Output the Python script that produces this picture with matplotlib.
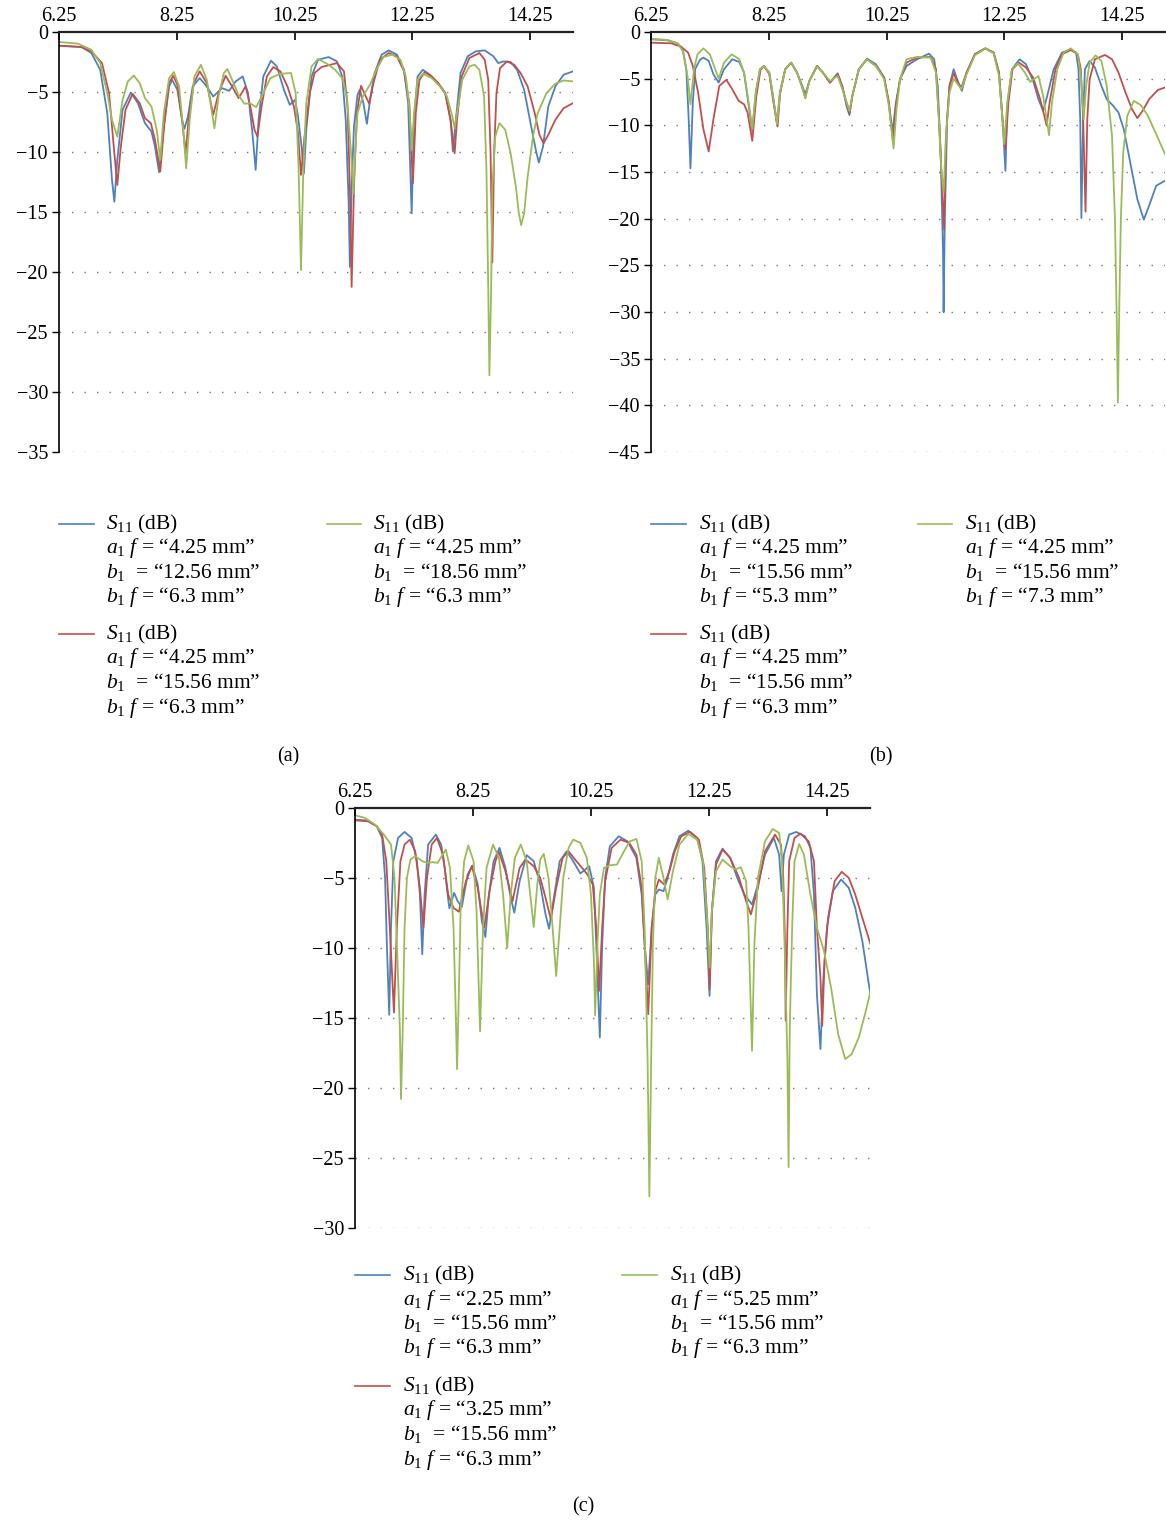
import matplotlib
matplotlib.use("Agg")
import matplotlib.pyplot as plt
from matplotlib.lines import Line2D

plt.rcParams['font.family'] = ['Liberation Serif', 'DejaVu Serif']
plt.rcParams['mathtext.fontset'] = 'custom'
plt.rcParams['mathtext.rm'] = 'Liberation Serif'
plt.rcParams['mathtext.it'] = 'Liberation Serif:italic'

# ---------------- data ----------------
X_TICKS = [6.25, 8.25, 10.25, 12.25, 14.25]
X_TICK_LABELS = ["6.25", "8.25", "10.25", "12.25", "14.25"]
Y_MIN = {"a": -35, "b": -45, "c": -30}
PANEL_NAMES = ["(a)", "(b)", "(c)"]
COLORS = {"blue": "#4F81BD", "red": "#C0504D", "green": "#9BBB59"}

# (frequency GHz, S11 dB)
A_BLUE = [(6.25,-1.14),(6.63,-1.25),(6.80,-1.75),(6.95,-3.15),(7.07,-6.76),(7.15,-12.33),(7.19,-14.14),(7.24,-10.66),(7.33,-6.48),(7.47,-5.04),(7.59,-5.93),(7.71,-7.60),(7.82,-8.29),(7.88,-9.55),(7.95,-11.69),(8.03,-7.88),(8.12,-4.54),(8.17,-3.98),(8.26,-4.81),(8.34,-7.32),(8.38,-8.07),(8.44,-7.04),(8.52,-4.54),(8.64,-3.84),(8.76,-4.54),(8.87,-5.37),(9.02,-4.68),(9.14,-4.90),(9.25,-4.12),(9.37,-3.70),(9.46,-5.09),(9.53,-8.15),(9.59,-11.49),(9.64,-7.32),(9.72,-3.70),(9.85,-2.39),(9.95,-2.87),(10.07,-4.81),(10.17,-6.07),(10.26,-5.65),(10.31,-7.04),(10.37,-9.55),(10.41,-11.77),(10.45,-8.15),(10.54,-3.70),(10.65,-2.31),(10.83,-2.09),(10.97,-2.45),(11.06,-3.70),(11.12,-7.32),(11.17,-14.28),(11.19,-19.57),(11.22,-12.89),(11.26,-7.88),(11.32,-5.23),(11.36,-4.81),(11.42,-5.93),(11.48,-7.65),(11.54,-5.37),(11.61,-3.42),(11.73,-1.89),(11.85,-1.53),(11.99,-1.89),(12.11,-3.15),(12.18,-5.93),(12.24,-15.11),(12.28,-7.32),(12.34,-3.70),(12.43,-3.15),(12.55,-3.56),(12.69,-4.26),(12.81,-5.09),(12.90,-7.32),(12.94,-9.96),(12.99,-7.32),(13.07,-3.42),(13.19,-2.03),(13.33,-1.61),(13.48,-1.53),(13.63,-2.03),(13.71,-2.59),(13.80,-2.45),(13.92,-2.50),(14.03,-3.15),(14.15,-4.81),(14.27,-7.88),(14.36,-10.10),(14.40,-10.88),(14.47,-9.55),(14.56,-6.21),(14.68,-4.54),(14.82,-3.56),(14.98,-3.28)]
A_RED = [(6.25,-1.14),(6.63,-1.25),(6.80,-1.61),(6.98,-2.59),(7.10,-5.09),(7.18,-9.55),(7.24,-12.75),(7.30,-9.55),(7.38,-6.48),(7.50,-5.15),(7.62,-5.93),(7.71,-7.18),(7.81,-7.60),(7.88,-8.99),(7.97,-11.63),(8.04,-7.60),(8.12,-4.26),(8.19,-3.65),(8.26,-4.40),(8.34,-7.32),(8.40,-10.10),(8.45,-7.32),(8.54,-4.26),(8.64,-3.28),(8.76,-4.26),(8.87,-6.90),(8.96,-5.09),(9.08,-3.65),(9.19,-4.54),(9.30,-5.51),(9.42,-4.54),(9.50,-6.21),(9.57,-8.15),(9.62,-8.71),(9.69,-6.21),(9.78,-3.70),(9.89,-2.92),(10.01,-3.28),(10.13,-4.54),(10.24,-6.21),(10.31,-8.43),(10.36,-11.91),(10.42,-8.71),(10.51,-5.09),(10.59,-3.42),(10.71,-2.92),(10.97,-2.59),(11.09,-3.28),(11.15,-6.21),(11.19,-12.89),(11.22,-21.24),(11.26,-12.89),(11.31,-6.76),(11.38,-4.48),(11.46,-5.37),(11.52,-5.98),(11.59,-4.26),(11.70,-2.31),(11.85,-1.75),(11.99,-2.03),(12.11,-3.28),(12.20,-5.93),(12.26,-12.61),(12.31,-6.76),(12.37,-4.04),(12.46,-3.34),(12.58,-3.70),(12.69,-4.26),(12.81,-5.09),(12.90,-7.32),(12.97,-10.10),(13.01,-7.32),(13.09,-3.70),(13.22,-2.17),(13.39,-1.75),(13.48,-2.31),(13.54,-3.98),(13.58,-10.10),(13.61,-19.20),(13.64,-10.10),(13.68,-5.09),(13.74,-3.01),(13.86,-2.45),(13.98,-2.73),(14.09,-3.42),(14.21,-4.54),(14.33,-6.76),(14.41,-8.57),(14.48,-9.27),(14.56,-8.57),(14.68,-7.32),(14.82,-6.35),(14.98,-5.93)]
A_GREEN = [(6.25,-0.83),(6.57,-0.97),(6.80,-1.48),(6.95,-2.59),(7.07,-5.09),(7.15,-7.32),(7.24,-8.71),(7.33,-5.65),(7.42,-4.12),(7.52,-3.62),(7.62,-4.26),(7.71,-5.51),(7.82,-6.21),(7.91,-8.15),(7.97,-10.66),(8.03,-6.76),(8.12,-3.84),(8.20,-3.34),(8.29,-4.54),(8.36,-8.15),(8.41,-11.36),(8.47,-7.32),(8.55,-3.70),(8.66,-2.73),(8.76,-3.98),(8.84,-6.48),(8.89,-8.02),(8.96,-5.37),(9.05,-3.42),(9.11,-3.09),(9.19,-3.98),(9.31,-5.37),(9.40,-5.98),(9.49,-5.93),(9.60,-6.26),(9.72,-5.09),(9.84,-3.84),(10.01,-3.48),(10.19,-3.42),(10.27,-5.09),(10.32,-11.49),(10.36,-19.84),(10.40,-11.49),(10.45,-5.93),(10.54,-2.87),(10.65,-2.25),(10.83,-2.73),(10.94,-3.15),(11.06,-3.84),(11.14,-5.37),(11.21,-10.10),(11.25,-13.44),(11.28,-10.10),(11.32,-6.76),(11.41,-5.37),(11.53,-4.40),(11.64,-3.15),(11.76,-2.09),(11.91,-1.89),(12.05,-2.31),(12.14,-3.70),(12.20,-6.21),(12.24,-9.82),(12.28,-6.76),(12.34,-3.98),(12.43,-3.48),(12.58,-3.84),(12.72,-4.54),(12.84,-5.37),(12.93,-7.04),(12.97,-8.02),(13.01,-6.76),(13.10,-3.98),(13.22,-2.87),(13.31,-2.73),(13.39,-3.15),(13.47,-5.37),(13.51,-11.49),(13.54,-21.24),(13.56,-28.61),(13.59,-21.24),(13.61,-12.89),(13.66,-8.71),(13.73,-7.60),(13.83,-8.15),(13.92,-10.10),(14.01,-12.89),(14.06,-15.11),(14.10,-16.09),(14.15,-15.11),(14.21,-12.05),(14.30,-8.71),(14.38,-6.76),(14.53,-5.09),(14.68,-4.31),(14.82,-4.04),(14.98,-4.12)]

B_BLUE = [(6.25,-0.78),(6.53,-0.89),(6.70,-1.21),(6.79,-1.85),(6.85,-3.99),(6.89,-9.34),(6.92,-14.62),(6.96,-7.56),(7.00,-3.99),(7.08,-2.99),(7.14,-2.75),(7.23,-3.10),(7.31,-4.53),(7.40,-5.42),(7.49,-3.99),(7.63,-2.92),(7.75,-3.21),(7.83,-4.35),(7.91,-7.91),(7.97,-10.59),(8.03,-6.49),(8.10,-3.99),(8.17,-3.64),(8.26,-4.35),(8.33,-7.20),(8.39,-9.88),(8.44,-6.49),(8.53,-3.99),(8.63,-3.28),(8.73,-4.35),(8.82,-5.78),(8.87,-6.67),(8.94,-5.24),(9.07,-3.64),(9.17,-4.35),(9.29,-5.42),(9.42,-4.42),(9.50,-5.78),(9.57,-7.91),(9.62,-8.91),(9.67,-6.84),(9.78,-3.99),(9.92,-2.85),(10.07,-3.46),(10.21,-4.88),(10.29,-7.56),(10.35,-10.77),(10.41,-7.56),(10.48,-5.06),(10.59,-3.64),(10.77,-2.92),(10.97,-2.32),(11.06,-2.92),(11.12,-5.78),(11.17,-12.91),(11.21,-23.60),(11.22,-30.02),(11.24,-20.04),(11.28,-9.34),(11.32,-5.78),(11.39,-3.99),(11.47,-5.42),(11.53,-6.31),(11.61,-4.35),(11.75,-2.39),(11.93,-1.75),(12.07,-2.21),(12.16,-4.35),(12.22,-9.34),(12.27,-14.87),(12.30,-7.91),(12.38,-3.99),(12.51,-2.92),(12.62,-3.46),(12.74,-5.24),(12.83,-7.20),(12.91,-8.45),(12.98,-6.84),(13.09,-3.99),(13.23,-2.21),(13.38,-1.85),(13.47,-2.21),(13.51,-3.99),(13.54,-9.34),(13.56,-19.93),(13.59,-9.34),(13.62,-3.99),(13.70,-3.10),(13.79,-3.81),(13.90,-5.78),(13.99,-7.20),(14.10,-7.91),(14.19,-8.63),(14.28,-10.41),(14.40,-14.33),(14.51,-17.90),(14.62,-20.11),(14.71,-18.61),(14.83,-16.47),(14.98,-15.94)]
B_RED = [(6.25,-1.14),(6.59,-1.21),(6.76,-1.57),(6.88,-2.21),(6.96,-3.64),(7.05,-6.49),(7.14,-10.41),(7.23,-12.80),(7.31,-9.34),(7.41,-5.78),(7.53,-5.13),(7.63,-6.13),(7.74,-7.38),(7.83,-7.74),(7.89,-8.63),(7.97,-11.66),(8.04,-6.84),(8.11,-4.06),(8.17,-3.64),(8.26,-4.53),(8.33,-7.56),(8.40,-10.12),(8.44,-6.67),(8.53,-3.99),(8.63,-3.28),(8.73,-4.35),(8.82,-5.95),(8.87,-7.02),(8.94,-5.24),(9.07,-3.64),(9.17,-4.35),(9.29,-5.42),(9.42,-4.53),(9.50,-5.95),(9.62,-8.70),(9.67,-6.84),(9.78,-3.99),(9.92,-2.92),(10.07,-3.64),(10.21,-4.88),(10.29,-7.56),(10.36,-11.84),(10.41,-7.91),(10.48,-5.06),(10.59,-3.28),(10.77,-2.75),(11.00,-2.67),(11.09,-3.99),(11.14,-9.34),(11.18,-14.69),(11.23,-21.18),(11.26,-11.12),(11.32,-5.78),(11.39,-4.42),(11.46,-5.42),(11.52,-5.95),(11.61,-4.35),(11.75,-2.39),(11.93,-1.75),(12.07,-2.21),(12.16,-4.35),(12.22,-9.34),(12.27,-12.55),(12.32,-7.56),(12.39,-3.99),(12.50,-3.28),(12.62,-3.81),(12.74,-4.88),(12.86,-7.20),(12.93,-8.98),(12.97,-10.05),(13.02,-7.56),(13.12,-3.99),(13.23,-2.39),(13.38,-1.93),(13.50,-2.39),(13.55,-3.99),(13.59,-9.34),(13.63,-19.25),(13.66,-9.34),(13.70,-5.06),(13.79,-2.92),(13.96,-2.46),(14.08,-2.92),(14.19,-4.35),(14.31,-6.49),(14.42,-8.27),(14.51,-9.23),(14.60,-8.45),(14.71,-7.20),(14.86,-6.20),(14.98,-5.95)]
B_GREEN = [(6.25,-0.71),(6.53,-0.86),(6.70,-1.21),(6.79,-2.03),(6.87,-4.71),(6.92,-7.74),(6.98,-3.99),(7.04,-2.39),(7.14,-1.75),(7.25,-2.39),(7.34,-3.99),(7.40,-4.99),(7.49,-3.28),(7.62,-2.39),(7.75,-2.92),(7.83,-4.35),(7.91,-7.56),(7.97,-10.41),(8.03,-6.49),(8.10,-3.99),(8.17,-3.64),(8.26,-4.42),(8.33,-7.20),(8.39,-9.88),(8.44,-6.49),(8.53,-3.99),(8.63,-3.28),(8.73,-4.35),(8.82,-5.95),(8.87,-7.13),(8.94,-5.24),(9.07,-3.71),(9.17,-4.35),(9.29,-5.24),(9.42,-4.71),(9.50,-6.13),(9.62,-8.45),(9.67,-6.84),(9.78,-3.99),(9.92,-2.92),(10.07,-3.64),(10.21,-5.06),(10.29,-7.91),(10.37,-12.48),(10.42,-8.27),(10.48,-5.06),(10.59,-2.92),(10.77,-2.67),(11.00,-2.75),(11.09,-4.35),(11.14,-9.34),(11.18,-14.69),(11.22,-17.18),(11.26,-11.12),(11.32,-6.49),(11.39,-4.99),(11.46,-5.60),(11.52,-6.13),(11.61,-4.53),(11.75,-2.50),(11.93,-1.78),(12.07,-2.28),(12.16,-4.71),(12.22,-9.34),(12.25,-12.01),(12.30,-7.56),(12.38,-3.99),(12.48,-3.35),(12.60,-4.35),(12.69,-5.35),(12.83,-4.71),(12.91,-6.84),(12.97,-9.34),(13.01,-11.05),(13.06,-7.56),(13.15,-3.99),(13.26,-2.21),(13.38,-1.75),(13.50,-2.39),(13.55,-4.71),(13.60,-9.34),(13.64,-5.78),(13.70,-3.28),(13.80,-2.50),(13.90,-3.10),(13.99,-5.78),(14.08,-11.12),(14.13,-20.04),(14.16,-30.73),(14.18,-39.71),(14.20,-30.73),(14.23,-20.04),(14.27,-12.91),(14.34,-8.98),(14.45,-7.38),(14.57,-7.84),(14.69,-8.98),(14.83,-10.94),(14.98,-13.08)]

C_BLUE = [(6.25,-0.83),(6.47,-0.90),(6.62,-1.31),(6.71,-2.14),(6.76,-4.99),(6.79,-9.74),(6.83,-14.77),(6.86,-8.55),(6.90,-3.80),(6.98,-2.14),(7.09,-1.71),(7.21,-2.14),(7.30,-3.80),(7.35,-6.18),(7.39,-10.45),(7.43,-6.18),(7.49,-2.61),(7.62,-1.90),(7.71,-2.61),(7.77,-4.28),(7.82,-6.18),(7.85,-7.17),(7.93,-6.06),(7.99,-6.65),(8.06,-7.08),(8.16,-4.75),(8.24,-4.11),(8.33,-5.46),(8.40,-8.08),(8.46,-9.22),(8.52,-6.18),(8.60,-3.80),(8.70,-2.85),(8.80,-4.28),(8.89,-6.41),(8.95,-7.48),(9.04,-5.23),(9.16,-3.37),(9.28,-3.80),(9.39,-5.46),(9.48,-7.60),(9.54,-8.62),(9.63,-6.18),(9.72,-3.80),(9.84,-3.09),(9.95,-3.80),(10.07,-4.68),(10.22,-4.16),(10.30,-5.70),(10.34,-9.74),(10.40,-16.39),(10.44,-9.74),(10.49,-4.99),(10.57,-2.73),(10.72,-2.02),(10.87,-2.38),(11.02,-3.56),(11.11,-6.18),(11.16,-9.74),(11.22,-12.59),(11.28,-8.55),(11.34,-6.18),(11.40,-5.82),(11.48,-5.94),(11.55,-4.99),(11.64,-3.33),(11.75,-2.02),(11.90,-1.62),(12.05,-2.14),(12.14,-3.80),(12.21,-8.55),(12.26,-13.42),(12.30,-7.36),(12.37,-3.80),(12.48,-2.90),(12.61,-3.56),(12.73,-4.99),(12.85,-6.18),(12.98,-6.89),(13.08,-5.46),(13.20,-3.33),(13.35,-2.14),(13.44,-3.33),(13.48,-5.94),(13.52,-3.33),(13.61,-1.90),(13.73,-1.71),(13.88,-2.02),(13.97,-2.85),(14.03,-6.18),(14.08,-13.30),(14.14,-17.22),(14.19,-12.11),(14.25,-8.55),(14.35,-5.94),(14.49,-5.11),(14.62,-5.70),(14.73,-7.13),(14.85,-9.50),(14.99,-13.42)]
C_RED = [(6.25,-0.88),(6.47,-0.95),(6.62,-1.31),(6.71,-1.90),(6.78,-3.80),(6.84,-8.55),(6.91,-14.61),(6.96,-8.55),(7.02,-3.80),(7.09,-2.61),(7.18,-2.26),(7.27,-3.09),(7.35,-5.70),(7.41,-8.55),(7.47,-4.99),(7.55,-2.61),(7.64,-2.14),(7.74,-3.33),(7.83,-6.18),(7.92,-7.13),(8.01,-7.41),(8.13,-5.23),(8.23,-4.16),(8.33,-5.70),(8.44,-8.55),(8.54,-5.70),(8.63,-3.80),(8.69,-3.14),(8.80,-4.51),(8.92,-6.65),(9.04,-4.28),(9.14,-3.68),(9.28,-4.16),(9.39,-4.99),(9.48,-6.41),(9.57,-7.96),(9.66,-5.70),(9.77,-3.56),(9.87,-3.09),(9.98,-3.68),(10.10,-4.28),(10.19,-4.75),(10.28,-5.46),(10.34,-8.55),(10.39,-13.06),(10.44,-8.55),(10.49,-5.23),(10.60,-2.85),(10.75,-2.26),(10.90,-2.49),(11.02,-3.33),(11.11,-5.70),(11.16,-9.74),(11.22,-14.73),(11.28,-8.55),(11.34,-5.94),(11.40,-5.11),(11.49,-5.46),(11.58,-4.51),(11.67,-3.09),(11.78,-2.02),(11.93,-1.71),(12.08,-2.26),(12.17,-4.28),(12.23,-8.55),(12.26,-12.95),(12.30,-7.36),(12.37,-4.04),(12.48,-2.97),(12.61,-3.56),(12.76,-4.99),(12.88,-6.65),(12.96,-7.60),(13.08,-5.70),(13.20,-3.09),(13.37,-1.90),(13.47,-2.61),(13.51,-4.99),(13.54,-9.74),(13.55,-15.20),(13.58,-8.55),(13.61,-3.80),(13.70,-2.14),(13.80,-1.83),(13.94,-2.38),(14.03,-3.80),(14.08,-8.55),(14.14,-12.11),(14.17,-15.56),(14.21,-10.93),(14.27,-7.84),(14.38,-5.23),(14.50,-4.56),(14.62,-4.99),(14.73,-6.18),(14.85,-7.84),(14.99,-9.74)]
C_GREEN = [(6.25,-0.52),(6.42,-0.71),(6.59,-1.19),(6.74,-1.90),(6.86,-2.61),(6.92,-4.99),(6.96,-9.74),(7.01,-15.68),(7.03,-20.78),(7.06,-15.68),(7.09,-8.55),(7.13,-4.99),(7.19,-3.68),(7.27,-3.44),(7.39,-3.80),(7.48,-3.92),(7.57,-3.87),(7.65,-3.92),(7.72,-3.44),(7.79,-2.97),(7.86,-4.28),(7.92,-8.55),(7.95,-13.30),(7.98,-18.65),(8.01,-13.30),(8.04,-7.36),(8.10,-3.80),(8.17,-2.68),(8.26,-3.80),(8.31,-7.36),(8.37,-15.96),(8.42,-8.55),(8.48,-4.28),(8.59,-2.61),(8.69,-3.56),(8.76,-6.18),(8.83,-9.98),(8.89,-6.18),(8.96,-3.56),(9.06,-2.61),(9.16,-3.80),(9.22,-6.18),(9.28,-8.50),(9.34,-5.46),(9.39,-3.68),(9.45,-3.28),(9.53,-4.99),(9.60,-8.55),(9.66,-12.00),(9.72,-8.55),(9.78,-4.99),(9.87,-2.85),(9.95,-2.26),(10.07,-2.49),(10.18,-3.56),(10.25,-6.18),(10.30,-10.93),(10.32,-14.80),(10.36,-9.74),(10.40,-6.18),(10.47,-4.28),(10.57,-4.09),(10.69,-4.04),(10.81,-3.09),(10.91,-2.38),(11.02,-2.21),(11.11,-3.80),(11.16,-8.55),(11.21,-18.05),(11.24,-27.74),(11.27,-18.05),(11.30,-9.74),(11.34,-4.99),(11.40,-3.56),(11.48,-4.99),(11.55,-6.53),(11.64,-4.51),(11.75,-2.61),(11.90,-1.85),(12.05,-2.26),(12.15,-3.80),(12.21,-7.36),(12.26,-11.40),(12.30,-7.36),(12.37,-4.51),(12.48,-3.68),(12.61,-4.16),(12.70,-4.39),(12.79,-4.23),(12.88,-5.23),(12.92,-8.55),(12.98,-17.34),(13.02,-9.74),(13.08,-4.99),(13.20,-2.38),(13.33,-1.50),(13.44,-1.78),(13.49,-3.80),(13.54,-10.93),(13.58,-18.05),(13.60,-25.65),(13.62,-15.68),(13.66,-8.55),(13.70,-3.80),(13.78,-2.57),(13.86,-3.33),(13.97,-6.18),(14.08,-8.55),(14.20,-10.21),(14.32,-12.83),(14.44,-16.15),(14.56,-17.93),(14.67,-17.58),(14.79,-16.39),(14.91,-14.49),(14.99,-13.06)]

# legend parameters: (a1 f, b1, b1 f) per series
A_PARAMS = {"blue": ("4.25", "12.56", "6.3"), "red": ("4.25", "15.56", "6.3"), "green": ("4.25", "18.56", "6.3")}
B_PARAMS = {"blue": ("4.25", "15.56", "5.3"), "red": ("4.25", "15.56", "6.3"), "green": ("4.25", "15.56", "7.3")}
C_PARAMS = {"blue": ("2.25", "15.56", "6.3"), "red": ("3.25", "15.56", "6.3"), "green": ("5.25", "15.56", "6.3")}

# ---------------- figure ----------------
W, H = 1166, 1520
FS = 14.5
LFS = 15.5
fig = plt.figure(figsize=(W / 100, H / 100), dpi=100)


def px_axes(l, t, r, b):
    return fig.add_axes([l / W, 1 - b / H, (r - l) / W, (b - t) / H])


def style(ax, ymin):
    ax.set_xlim(6.25, 14.98)
    ax.set_ylim(ymin, 0)
    ax.xaxis.tick_top()
    ax.set_xticks(X_TICKS)
    ax.set_xticklabels(X_TICK_LABELS)
    yt = list(range(ymin, 1, 5))
    ax.set_yticks(yt)
    ax.tick_params(axis='x', direction='in', length=6, width=1.2, pad=4, labelsize=FS)
    ax.tick_params(axis='y', direction='out', length=5, width=1.0, pad=3, labelsize=FS)
    for s in ("right", "bottom"):
        ax.spines[s].set_visible(False)
    ax.spines["top"].set_linewidth(1.6)
    ax.spines["top"].set_color("#222222")
    ax.spines["left"].set_linewidth(1.2)
    for y in yt[:-1]:
        ax.axhline(y, color="#777777", lw=1.0, ls=(0, (1, 8)), zorder=0)
    ax.patch.set_alpha(0)


def draw(ax, series):
    for color, pts in series:
        ax.plot([p[0] for p in pts], [p[1] for p in pts], color=COLORS[color], lw=1.3,
                solid_joinstyle='round', zorder=2)


def legend_block(x0, x1, xt, yc, color, params, ls=24.5):
    fig.add_artist(Line2D([x0 / W, x1 / W], [1 - yc / H] * 2, color=COLORS[color], lw=1.2))
    lines = [r"$S_{11}$ (dB)",
             r"$a_1\ f$ = “%s mm”" % params[0],
             r"$b_1$  = “%s mm”" % params[1],
             r"$b_1\ f$ = “%s mm”" % params[2]]
    for i, s in enumerate(lines):
        fig.text(xt / W, 1 - (yc + 5 + i * ls) / H, s, ha='left', va='baseline', fontsize=LFS)


panels = [
    ("a", (59, 32, 573, 452), [("blue", A_BLUE), ("red", A_RED), ("green", A_GREEN)], A_PARAMS,
     (59, 94, 106, 327, 361, 373), (524, 634, 524), (288, 757)),
    ("b", (651, 32, 1165, 452), [("blue", B_BLUE), ("red", B_RED), ("green", B_GREEN)], B_PARAMS,
     (651, 686, 699, 918, 952, 965), (524, 634, 524), (881, 757)),
    ("c", (355, 808, 870, 1228), [("blue", C_BLUE), ("red", C_RED), ("green", C_GREEN)], C_PARAMS,
     (355, 390, 403, 622, 657, 670), (1275, 1386, 1275), (583, 1507)),
]

for i, (key, box, series, params, lx, ly, lab) in enumerate(panels):
    ax = px_axes(*box)
    style(ax, Y_MIN[key])
    draw(ax, series)
    legend_block(lx[0], lx[1], lx[2], ly[0], "blue", params["blue"])
    legend_block(lx[0], lx[1], lx[2], ly[1], "red", params["red"])
    legend_block(lx[3], lx[4], lx[5], ly[2], "green", params["green"])
    fig.text(lab[0] / W, 1 - lab[1] / H, PANEL_NAMES[i], ha='center', va='center', fontsize=FS)

fig.savefig("out.png", dpi=100)
